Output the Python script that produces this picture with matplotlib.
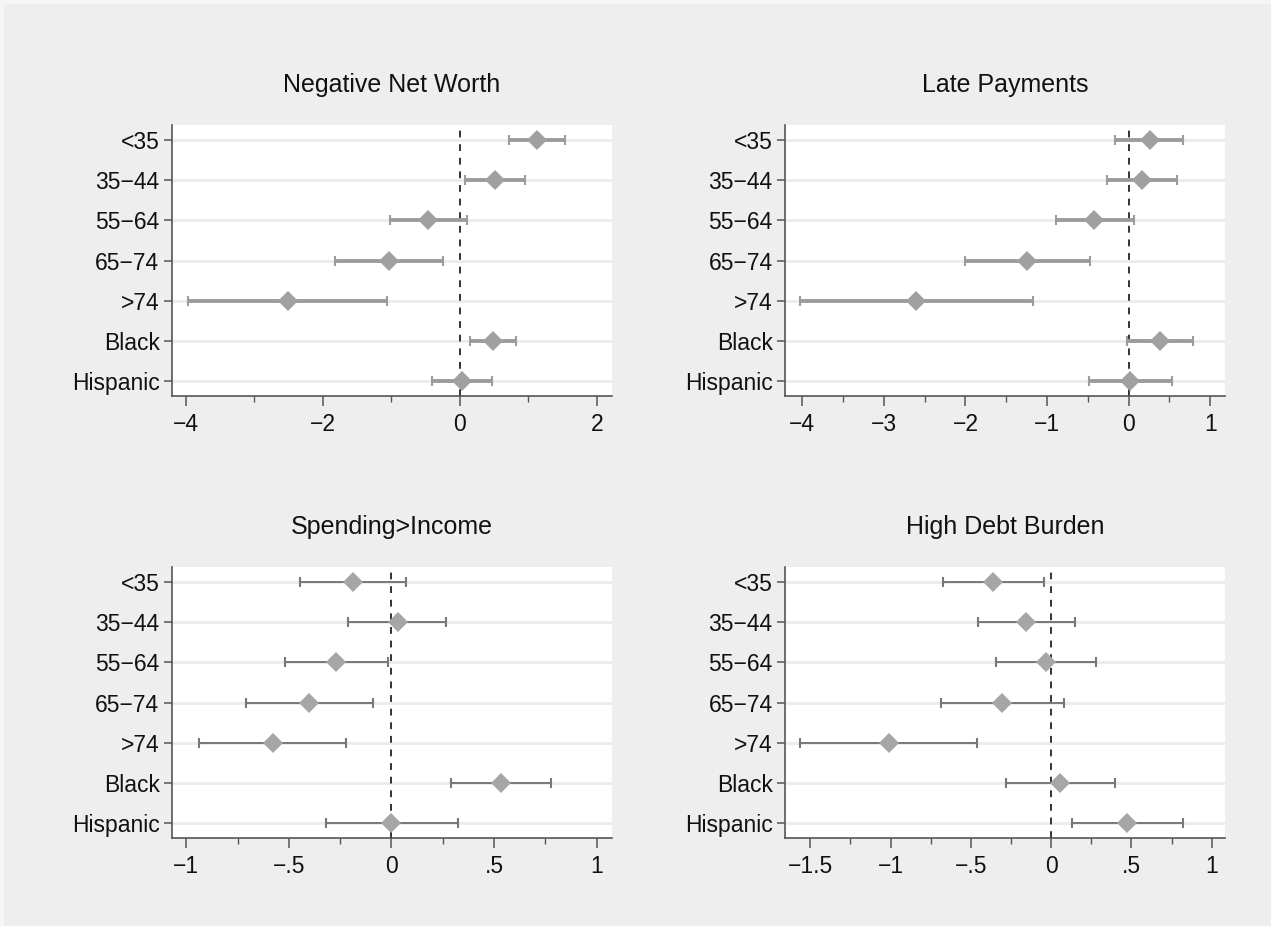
import numpy as np
import matplotlib.pyplot as plt
from matplotlib.patches import Rectangle
from matplotlib.ticker import FixedLocator

plt.rcParams['font.family'] = ['Liberation Sans', 'DejaVu Sans']

groups = ['<35', '35\u221244', '55\u221264', '65\u221274', '>74', 'Black', 'Hispanic']

# negative net worth
nnw_est = [1.12, 0.51, -0.46, -1.04, -2.51, 0.49, 0.03]
nnw_lo = [0.71, 0.08, -1.02, -1.82, -3.96, 0.15, -0.40]
nnw_hi = [1.53, 0.95, 0.10, -0.25, -1.06, 0.82, 0.47]

# late payments
late_est = [0.26, 0.16, -0.42, -1.24, -2.61, 0.38, 0.02]
late_lo = [-0.17, -0.26, -0.89, -2.00, -4.03, -0.02, -0.49]
late_hi = [0.67, 0.59, 0.06, -0.47, -1.17, 0.79, 0.53]

# spending > income
spend_est = [-0.19, 0.03, -0.27, -0.40, -0.58, 0.535, 0.0]
spend_lo = [-0.445, -0.21, -0.52, -0.71, -0.94, 0.29, -0.32]
spend_hi = [0.073, 0.266, -0.017, -0.09, -0.22, 0.78, 0.325]

# high debt burden
debt_est = [-0.363, -0.156, -0.033, -0.305, -1.012, 0.058, 0.474]
debt_lo = [-0.676, -0.458, -0.34, -0.687, -1.564, -0.278, 0.131]
debt_hi = [-0.042, 0.149, 0.28, 0.082, -0.46, 0.396, 0.821]

panels = [
    ('Negative Net Worth', nnw_est, nnw_lo, nnw_hi,
     (-4.2, 2.22), [-4, -2, 0, 2], ['\u22124', '\u22122', '0', '2'], [-3, -1, 1]),
    ('Late Payments', late_est, late_lo, late_hi,
     (-4.21, 1.18), [-4, -3, -2, -1, 0, 1],
     ['\u22124', '\u22123', '\u22122', '\u22121', '0', '1'],
     [-3.5, -2.5, -1.5, -0.5, 0.5]),
    ('Spending>Income', spend_est, spend_lo, spend_hi,
     (-1.07, 1.075), [-1, -0.5, 0, 0.5, 1],
     ['\u22121', '\u2212.5', '0', '.5', '1'], [-0.75, -0.25, 0.25, 0.75]),
    ('High Debt Burden', debt_est, debt_lo, debt_hi,
     (-1.657, 1.083), [-1.5, -1, -0.5, 0, 0.5, 1],
     ['\u22121.5', '\u22121', '\u2212.5', '0', '.5', '1'],
     [-1.25, -0.75, -0.25, 0.25, 0.75]),
]

W, H = 1271, 926
fig = plt.figure(figsize=(W / 100, H / 100), dpi=100, facecolor='#f6f6f6')
fig.patches.append(Rectangle((4 / W, 0), 1, 1 - 4 / H, transform=fig.transFigure,
                             facecolor='#eeeeee', edgecolor='none', zorder=-10))

# axes boxes in pixels: left, top
boxes = [(172, 125), (785, 125), (172, 567), (785, 567)]
aw, ah = 440, 271

for (title, est, lo, hi, xlim, ticks, labels, minor), (px, py) in zip(panels, boxes):
    ax = fig.add_axes([px / W, 1 - (py + ah) / H, aw / W, ah / H])
    ax.set_facecolor('white')
    top = title in ('Negative Net Worth', 'Late Payments')
    est = np.array(est)
    lo = np.array(lo)
    hi = np.array(hi)
    y = np.arange(len(groups))

    for yy in y:
        ax.axhline(yy, color='#ebebeb', lw=2.0, zorder=0)
    ax.axvline(0, color='#333333', lw=1.4, ls=(0, (3.5, 3.5)), zorder=1)

    if top:
        ecol, elw, mcol = '#9c9c9c', 2.8, '#a0a0a0'
    else:
        ecol, elw, mcol = '#777777', 1.4, '#a6a6a6'
    ax.errorbar(est, y, xerr=[est - lo, hi - est], fmt='none', ecolor=ecol,
                elinewidth=elw, capsize=3.4, capthick=1.5, zorder=2)
    ax.plot(est, y, 'D', color=mcol, markersize=10.5, markeredgewidth=0, zorder=3)

    ax.set_xlim(*xlim)
    ax.set_ylim(6.37, -0.37)
    ax.set_yticks(y)
    ax.set_yticklabels(groups)
    ax.set_xticks(ticks)
    ax.set_xticklabels(labels)
    ax.xaxis.set_minor_locator(FixedLocator(minor))

    for s in ('top', 'right'):
        ax.spines[s].set_visible(False)
    for s in ('left', 'bottom'):
        ax.spines[s].set_color('#555555')
        ax.spines[s].set_linewidth(1.2)
    ax.tick_params(axis='y', length=6, width=1.1, color='#555555', pad=3,
                   labelsize=16.5, labelcolor='#111111')
    ax.tick_params(axis='x', which='major', length=7, width=1.1, color='#555555',
                   pad=5, labelsize=16.5, labelcolor='#111111')
    ax.tick_params(axis='x', which='minor', length=4, width=1.0, color='#555555')

    ax.text(0.5, 1 + 40 / ah, title, transform=ax.transAxes, ha='center',
            va='center', fontsize=18, color='#111111')

fig.savefig('out.png', dpi=100, facecolor=fig.get_facecolor())
